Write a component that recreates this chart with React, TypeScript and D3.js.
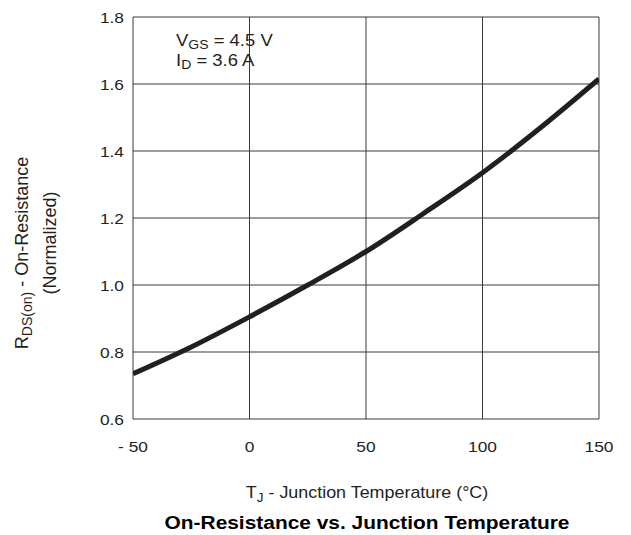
import React, { useEffect, useRef } from 'react';
import * as d3 from 'd3';

const temps = [-50, -25, 0, 25, 50, 75, 100, 125, 150];
const resistance = [0.735, 0.815, 0.905, 1.0, 1.1, 1.215, 1.335, 1.47, 1.615];
const xTicks = [-50, 0, 50, 100, 150];
const yTicks = [0.6, 0.8, 1.0, 1.2, 1.4, 1.6, 1.8];

const W = 631;
const H = 535;
const margin = { left: 133, right: 32, top: 17, bottom: 116 };
const FONT = '"Liberation Sans", Arial, Helvetica, sans-serif';
const SX = 1.12; // the reference type is a little wide

export default function App() {
  const svgRef = useRef<SVGSVGElement>(null);

  useEffect(() => {
    if (!svgRef.current) return;
    const svg = d3.select(svgRef.current);
    svg.selectAll('*').remove();

    const x = d3.scaleLinear().domain([-50, 150]).range([margin.left, W - margin.right]);
    const y = d3.scaleLinear().domain([0.6, 1.8]).range([H - margin.bottom, margin.top]);

    // grid
    svg.append('g')
      .selectAll('line')
      .data(xTicks)
      .enter()
      .append('line')
      .attr('x1', d => x(d)).attr('x2', d => x(d))
      .attr('y1', y(0.6)).attr('y2', y(1.8))
      .attr('stroke', '#3a3a3a').attr('stroke-width', 1);

    svg.append('g')
      .selectAll('line')
      .data(yTicks)
      .enter()
      .append('line')
      .attr('x1', x(-50)).attr('x2', x(150))
      .attr('y1', d => y(d)).attr('y2', d => y(d))
      .attr('stroke', '#3a3a3a').attr('stroke-width', 1);

    // curve
    svg.append('defs').append('clipPath').attr('id', 'plotclip')
      .append('rect')
      .attr('x', x(-50)).attr('y', y(1.8))
      .attr('width', x(150) - x(-50)).attr('height', y(0.6) - y(1.8));

    const line = d3.line<number>()
      .x((_, i) => x(temps[i]))
      .y(d => y(d))
      .curve(d3.curveMonotoneX);

    svg.append('path')
      .datum(resistance)
      .attr('d', line)
      .attr('fill', 'none')
      .attr('stroke', '#231f20')
      .attr('stroke-width', 5)
      .attr('clip-path', 'url(#plotclip)');

    // tick labels
    svg.append('g')
      .selectAll('text')
      .data(xTicks)
      .enter()
      .append('text')
      .attr('transform', d => `translate(${x(d)},${y(0.6) + 33}) scale(${SX},1)`)
      .attr('text-anchor', 'middle')
      .attr('font-family', FONT)
      .attr('font-size', 15.5)
      .attr('fill', '#231f20')
      .text(d => (d < 0 ? `- ${Math.abs(d)}` : `${d}`));

    svg.append('g')
      .selectAll('text')
      .data(yTicks)
      .enter()
      .append('text')
      .attr('transform', d => `translate(${x(-50) - 9},${y(d) + 5.5}) scale(${SX},1)`)
      .attr('text-anchor', 'end')
      .attr('font-family', FONT)
      .attr('font-size', 15.5)
      .attr('fill', '#231f20')
      .text(d => d.toFixed(1));

    // annotation
    const ann = svg.append('g').attr('font-family', FONT).attr('font-size', 16.5).attr('fill', '#231f20');
    const t1 = ann.append('text').attr('transform', `translate(176,46) scale(${SX},1)`);
    t1.append('tspan').text('V');
    t1.append('tspan').attr('font-size', 12.5).attr('dy', 3).text('GS');
    t1.append('tspan').attr('dy', -3).text(' = 4.5 V');
    const t2 = ann.append('text').attr('transform', `translate(176,66) scale(${SX},1)`);
    t2.append('tspan').text('I');
    t2.append('tspan').attr('font-size', 12.5).attr('dy', 3).text('D');
    t2.append('tspan').attr('dy', -3).text(' = 3.6 A');

    // x axis label
    const xl = svg.append('text')
      .attr('transform', `translate(367,498) scale(${SX},1)`)
      .attr('text-anchor', 'middle')
      .attr('font-family', FONT).attr('font-size', 16).attr('fill', '#231f20');
    xl.append('tspan').text('T');
    xl.append('tspan').attr('font-size', 12).attr('dy', 4).text('J');
    xl.append('tspan').attr('dy', -4).text(' - Junction Temperature (°C)');

    // y axis label
    const yg = svg.append('g').attr('font-family', FONT).attr('font-size', 18).attr('fill', '#231f20');
    const yl = yg.append('text')
      .attr('transform', 'translate(28, 253) rotate(-90)')
      .attr('text-anchor', 'middle');
    yl.append('tspan').text('R');
    yl.append('tspan').attr('font-size', 14).attr('dy', 4).text('DS(on)');
    yl.append('tspan').attr('dy', -4).text('  -  On-Resistance');
    yg.append('text')
      .attr('transform', 'translate(56, 243) rotate(-90)')
      .attr('text-anchor', 'middle')
      .text('(Normalized)');

    // title
    svg.append('text')
      .attr('transform', `translate(367,529) scale(1.1,1)`)
      .attr('text-anchor', 'middle')
      .attr('font-family', FONT).attr('font-size', 19).attr('font-weight', 'bold')
      .attr('fill', '#000')
      .text('On-Resistance vs. Junction Temperature');
  }, []);

  return (
    <svg
      ref={svgRef}
      width={W}
      height={H}
      style={{ position: 'absolute', left: 0, top: 0, background: '#fff' }}
    />
  );
}
